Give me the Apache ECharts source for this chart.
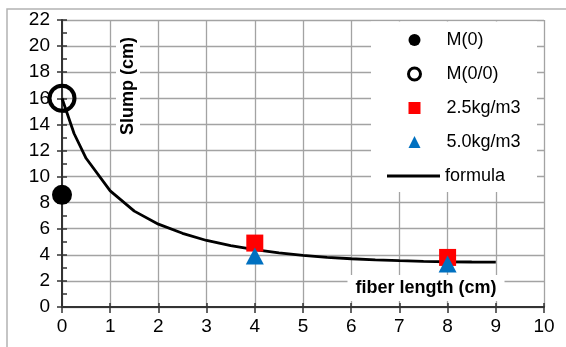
<!DOCTYPE html>
<html>
<head>
<meta charset="utf-8">
<script src="https://cdn.jsdelivr.net/npm/echarts@6/dist/echarts.min.js"></script>
<style>
  html, body { margin: 0; padding: 0; background: #fff; }
  #chart { width: 566px; height: 347px; }
</style>
</head>
<body>
<div id="chart"></div>
<script>
// Slump measurements against fiber length
const markerNames = ['M(0)', 'M(0/0)', '2.5kg/m3', '5.0kg/m3'];
const lineName = 'formula';
const m0 = [[0, 8.6]];
const m00 = [[0, 16]];
const fiber25 = [[4, 4.9], [8, 3.8]];
const fiber50 = [[4, 3.9], [8, 3.3]];
const formulaX = [0, 0.25, 0.5, 1, 1.5, 2, 2.5, 3, 3.5, 4, 4.5, 5, 5.5, 6, 6.5, 7, 7.5, 8, 8.5, 9];
const formulaY = [16, 13.3, 11.4, 8.9, 7.35, 6.35, 5.65, 5.1, 4.7, 4.4, 4.15, 3.95, 3.8, 3.7, 3.62, 3.55, 3.5, 3.47, 3.45, 3.44];
const xTicks = { min: 0, max: 10, interval: 1 };
const yTicks = { min: 0, max: 22, interval: 2 };

const FONT = '"Liberation Sans", Arial, sans-serif';
const GRID_COLOR = '#a3a3a3';
const AXIS_COLOR = '#333333';

const chart = echarts.init(document.getElementById('chart'), null, { renderer: 'canvas' });

const formulaData = formulaX.map((x, i) => [x, formulaY[i]]);

const legendText = { color: '#000', fontFamily: FONT, fontSize: 18 };

chart.setOption({
  animation: false,
  backgroundColor: '#ffffff',
  grid: { left: 62, right: 22, top: 20, bottom: 40, containLabel: false },
  xAxis: [
    {
      type: 'value', min: xTicks.min, max: xTicks.max, interval: xTicks.interval,
      position: 'bottom',
      axisLine: { show: true, onZero: false, lineStyle: { color: AXIS_COLOR, width: 2 } },
      axisTick: { show: true, length: 6, lineStyle: { color: AXIS_COLOR, width: 1.5 } },
      axisLabel: { color: '#000', fontFamily: FONT, fontSize: 19, margin: 10 },
      splitLine: { show: true, lineStyle: { color: GRID_COLOR, width: 1.3 } }
    },
    {
      type: 'value', min: xTicks.min, max: xTicks.max, interval: xTicks.interval,
      position: 'bottom',
      axisLine: { show: false },
      axisTick: { show: true, inside: true, length: 4, lineStyle: { color: AXIS_COLOR, width: 1.5 } },
      axisLabel: { show: false },
      splitLine: { show: false }
    }
  ],
  yAxis: [
    {
      type: 'value', min: yTicks.min, max: yTicks.max, interval: yTicks.interval,
      position: 'left',
      axisLine: { show: true, onZero: false, lineStyle: { color: AXIS_COLOR, width: 2 } },
      axisTick: { show: true, length: 5, lineStyle: { color: AXIS_COLOR, width: 1.5 } },
      axisLabel: { color: '#000', fontFamily: FONT, fontSize: 19, margin: 12 },
      splitLine: { show: true, lineStyle: { color: GRID_COLOR, width: 1.3 } }
    },
    {
      type: 'value', min: yTicks.min, max: yTicks.max, interval: 1,
      position: 'left',
      axisLine: { show: false },
      axisTick: { show: true, inside: true, length: 5, lineStyle: { color: AXIS_COLOR, width: 1.5 } },
      axisLabel: { show: false },
      splitLine: { show: false }
    }
  ],
  legend: [
    {
      // marker entries
      orient: 'vertical',
      left: 407, top: 31,
      padding: 0,
      itemWidth: 12, itemHeight: 12, itemGap: 16,
      textStyle: Object.assign({ padding: [0, 0, 0, 21] }, legendText),
      data: [
        { name: markerNames[0] },
        { name: markerNames[1], itemStyle: { borderWidth: 3 } },
        { name: markerNames[2], itemStyle: { borderWidth: 0 } },
        { name: markerNames[3], itemStyle: { borderWidth: 0 } }
      ]
    },
    {
      // line entry
      orient: 'vertical',
      left: 387, top: 167,
      padding: 0,
      itemWidth: 53, itemHeight: 3,
      textStyle: legendText,
      data: [{ name: lineName, icon: 'rect' }]
    }
  ],
  graphic: [
    {
      type: 'rect', silent: true, z: -10,
      shape: { x: 7, y: 9, width: 600, height: 400 },
      style: { fill: 'none', stroke: '#b3b3b3', lineWidth: 1.5 }
    },
    {
      // legend panel
      type: 'rect', silent: true, z: 1,
      shape: { x: 371, y: 21.5, width: 166, height: 170.5 },
      style: { fill: '#ffffff' }
    },
    {
      type: 'text', z: 100,
      x: 128, y: 87, rotation: Math.PI / 2,
      style: {
        text: 'Slump (cm)', fill: '#000',
        font: 'bold 18px ' + FONT,
        align: 'center', verticalAlign: 'middle',
        backgroundColor: '#fff', padding: [3, 4, 3, 6]
      }
    },
    {
      type: 'text', z: 100,
      x: 426, y: 288,
      style: {
        text: 'fiber length (cm)', fill: '#000',
        font: 'bold 18px ' + FONT,
        align: 'center', verticalAlign: 'middle',
        backgroundColor: '#fff', padding: [4, 8, 4, 8]
      }
    }
  ],
  series: [
    {
      name: lineName, type: 'line', data: formulaData,
      symbol: 'none', smooth: false, z: 2,
      lineStyle: { color: '#000', width: 2.8 },
      itemStyle: { color: '#000' }
    },
    {
      name: markerNames[0], type: 'scatter', data: m0, z: 3,
      symbol: 'circle', symbolSize: 20,
      itemStyle: { color: '#000', opacity: 1 }
    },
    {
      name: markerNames[1], type: 'scatter', data: m00, z: 3,
      symbol: 'circle', symbolSize: 25,
      itemStyle: { color: 'rgba(255,255,255,0)', borderColor: '#000', borderWidth: 4, opacity: 1 }
    },
    {
      name: markerNames[2], type: 'scatter', data: fiber25, z: 4,
      symbol: 'rect', symbolSize: 17,
      itemStyle: { color: '#ff0000', opacity: 1 }
    },
    {
      name: markerNames[3], type: 'scatter', data: fiber50, z: 5,
      symbol: 'triangle', symbolSize: [18, 17],
      itemStyle: { color: '#0070c0', opacity: 1 }
    }
  ]
});
</script>
</body>
</html>
